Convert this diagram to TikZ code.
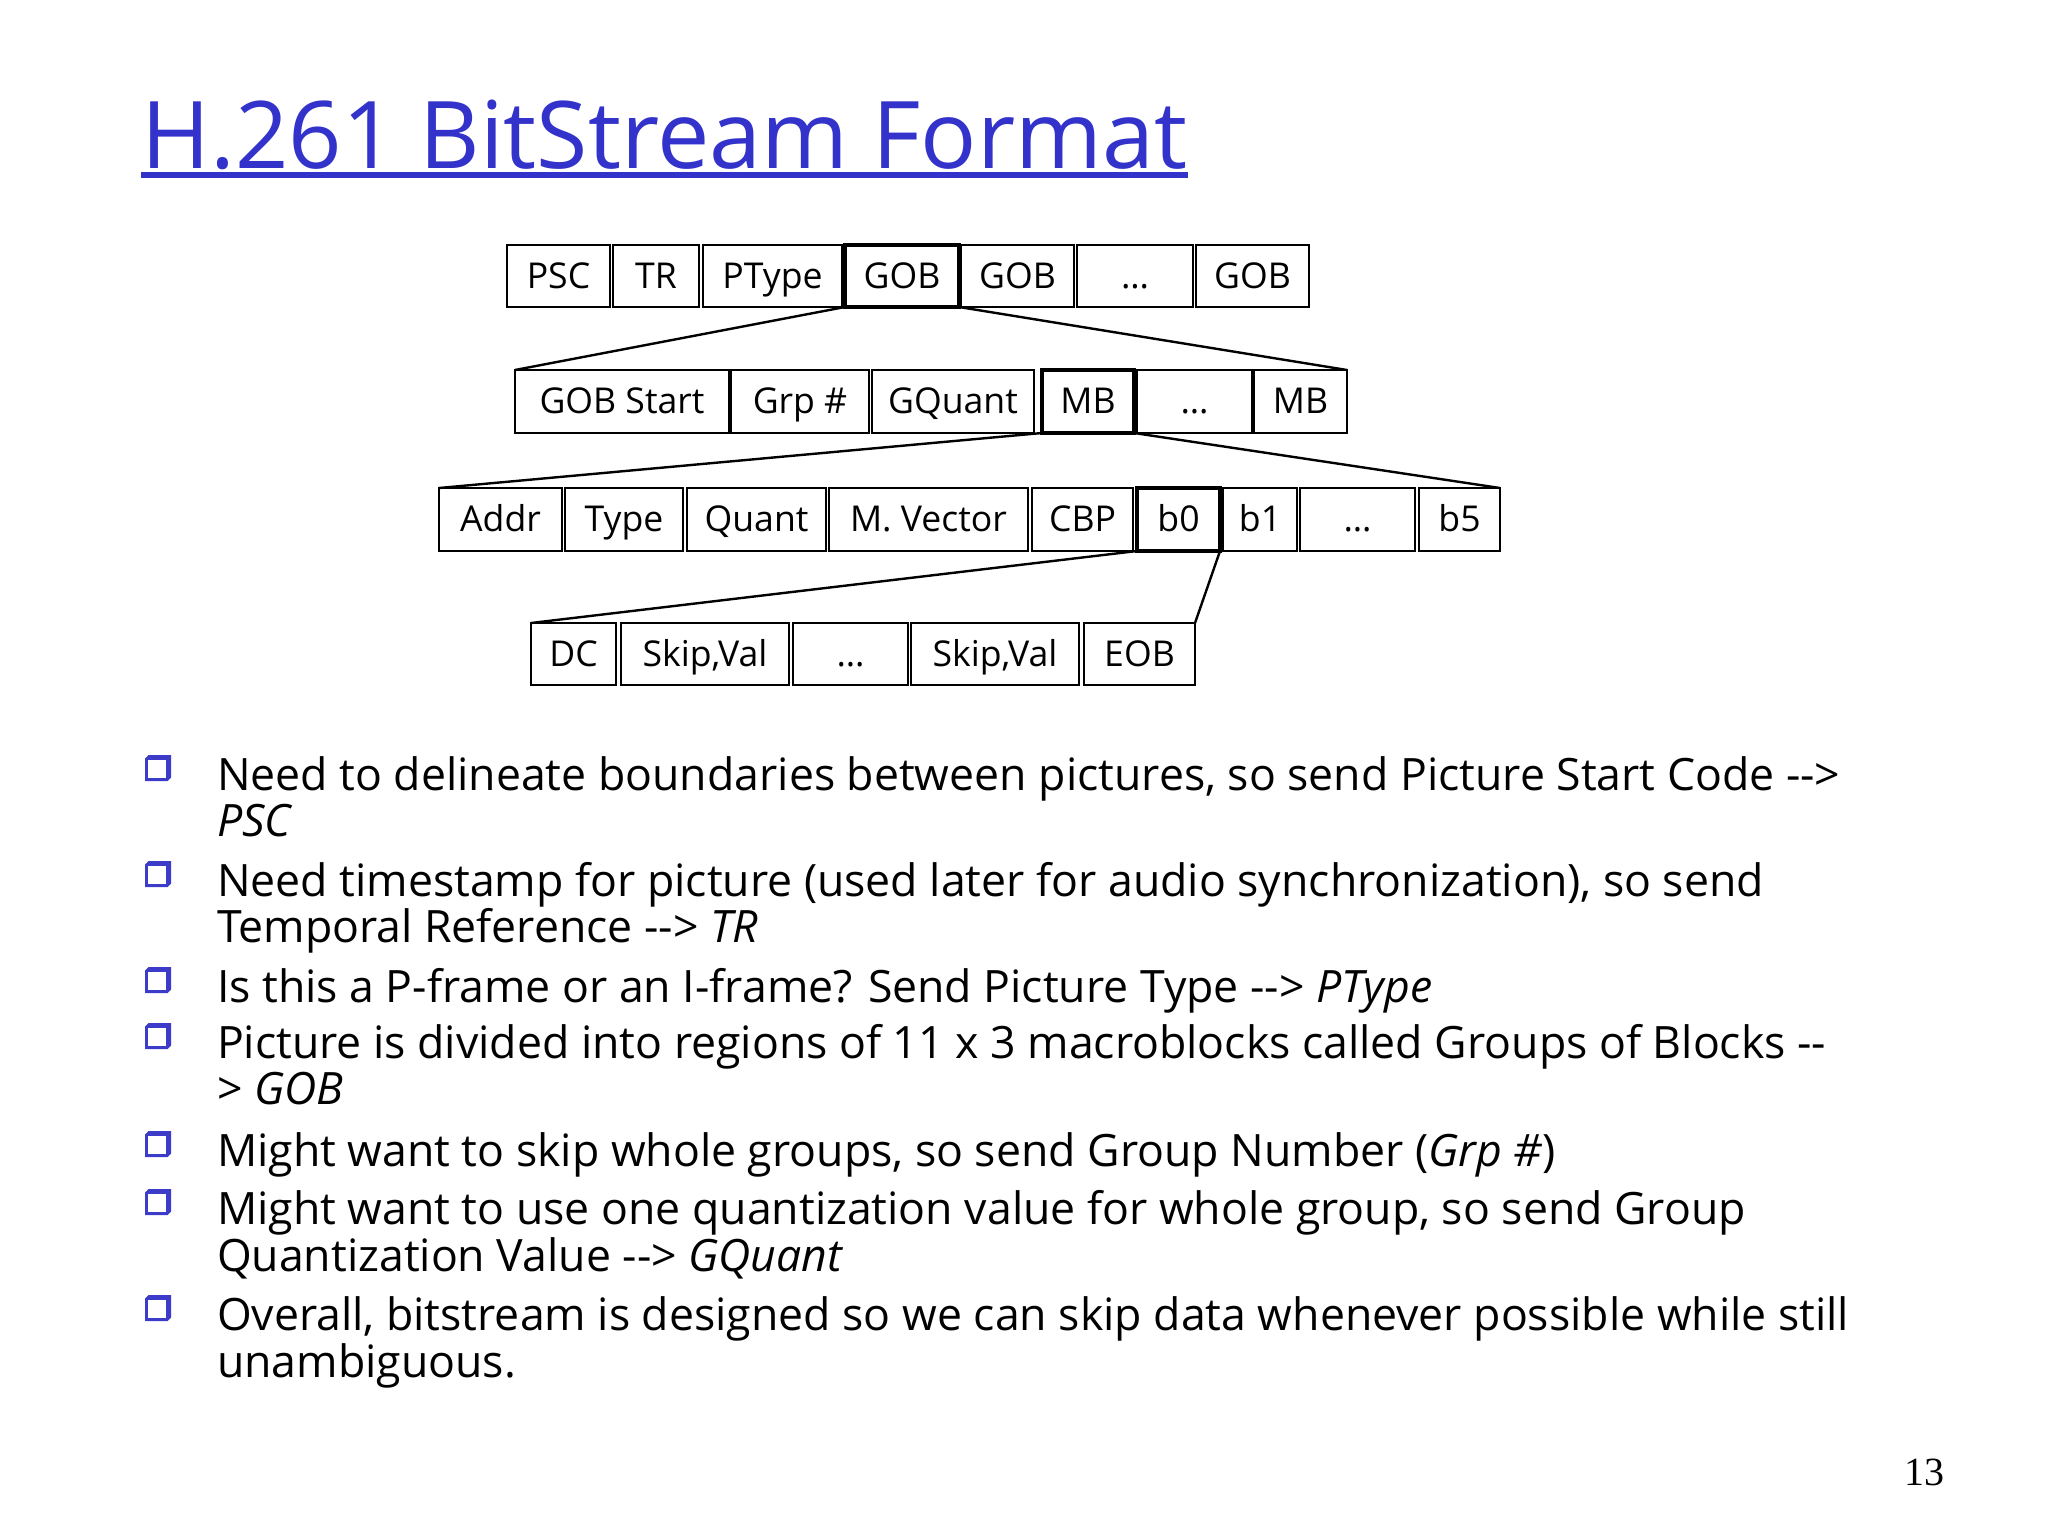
\documentclass[tikz,border=0pt]{standalone}
\usepackage{fontspec}
\setmainfont{Open Sans}
\newfontfamily\pgnumfont{Liberation Serif}
\definecolor{titleblue}{RGB}{51,51,204}
\definecolor{bulletblue}{RGB}{60,60,200}
\newcommand\cell[7][]{\node[cellbox,#1,minimum width={(#5-#3)*0.5pt},minimum height={(#6-#4)*0.5pt}] (#2) at ({(#3+#5)/2},{(#4+#6)/2}) {#7};}
\newcommand\bul[1]{%
  \fill[bulletblue] (145,#1-31.5) -- (148.5,#1-35) -- (171,#1-35) -- (171,#1-12.5) -- (167.5,#1-9) -- (145,#1-9) -- cycle;
  \fill[white] (147.8,#1-30) rectangle (166,#1-11.8);}
\begin{document}
\begin{tikzpicture}[x=0.5pt,y=-0.5pt,
  cellbox/.style={draw=black, line width=1pt, inner sep=0pt, outer sep=0pt,
    font=\fontsize{17.8}{20}\selectfont, text height=13.3pt, text depth=1pt},
  hot/.style={line width=2pt},
  fan/.style={line width=1.2pt},
  txt/.style={anchor=base west, inner sep=0pt, outer sep=0pt, font=\fontsize{22.3}{26}\selectfont},
]
\useasboundingbox (0,0) rectangle (2048,1536);
\fill[white] (0,0) rectangle (2048,1536);

% title
\node[anchor=base west, inner sep=0pt, text=titleblue, font=\fontsize{46.7}{52}\selectfont] (title) at (141,168) {H.261 BitStream Format};
\draw[titleblue, line width=3pt] (141,175) -- (1188,175);

% row 1
\cell{psc}{507}{245}{610}{307}{PSC}
\cell{tr}{613}{245}{699}{307}{TR}
\cell{ptype}{703}{245}{842}{307}{PType}
\cell[hot]{gobA}{845}{245}{959}{307}{GOB}
\cell{gobB}{961}{245}{1074}{307}{GOB}
\cell{dotsA}{1077}{245}{1193}{307}{\dots}
\cell{gobC}{1196}{245}{1309}{307}{GOB}

% row 2
\cell{gobstart}{515}{370}{729}{433}{GOB Start}
\cell{grp}{731}{370}{869}{433}{Grp \#}
\cell{gquant}{872}{370}{1034}{433}{GQuant}
\cell[hot]{mbA}{1042}{370}{1134}{433}{MB}
\cell{dotsB}{1137}{370}{1252}{433}{\dots}
\cell{mbB}{1254}{370}{1347}{433}{MB}

% row 3
\cell{addr}{439}{488}{562}{551}{Addr}
\cell{type}{565}{488}{683}{551}{Type}
\cell{quant}{687}{488}{826}{551}{Quant}
\cell{mvec}{829}{488}{1028}{551}{M. Vector}
\cell{cbp}{1032}{488}{1133}{551}{CBP}
\cell[hot]{bzero}{1137}{488}{1220}{551}{b0}
\cell{bone}{1223}{488}{1297}{551}{b1}
\cell{dotsC}{1300}{488}{1415}{551}{\dots}
\cell{bfive}{1419}{488}{1500}{551}{b5}

% row 4
\cell{dc}{531}{623}{616}{685}{DC}
\cell{skipA}{621}{623}{789}{685}{Skip,Val}
\cell{dotsD}{793}{623}{908}{685}{\dots}
\cell{skipB}{911}{623}{1079}{685}{Skip,Val}
\cell{eob}{1084}{623}{1195}{685}{EOB}

% fan lines
\draw[fan] (gobA.south west) -- (gobstart.north west);
\draw[fan] (gobA.south east) -- (mbB.north east);
\draw[fan] (mbA.south west) -- (addr.north west);
\draw[fan] (mbA.south east) -- (bfive.north east);
\draw[fan] (bzero.south west) -- (dc.north west);
\draw[fan] (bzero.south east) -- (eob.north east);

% bullets
\bul{790}\bul{896}\bul{1002}\bul{1058}\bul{1166}\bul{1224}\bul{1330}

\node[txt] (la) at (217,790) {Need to delineate boundaries between pictures, so send Picture Start Code -{}-{}>};
\node[txt] (lb) at (217,836) {\textit{PSC}};
\node[txt] (lc) at (217,896) {Need timestamp for picture (used later for audio synchronization), so send};
\node[txt] (ld) at (217,942) {Temporal Reference -{}-{}> \textit{TR}};
\node[txt] (le) at (217,1002) {Is this a P-frame or an I-frame? Send Picture Type -{}-{}> \textit{PType}};
\node[txt] (lf) at (217,1058) {Picture is divided into regions of 11 x 3 macroblocks called Groups of Blocks -{}-};
\node[txt] (lg) at (217,1104) {> \textit{GOB}};
\node[txt] (lh) at (217,1166) {Might want to skip whole groups, so send Group Number (\textit{Grp \#})};
\node[txt] (li) at (217,1224) {Might want to use one quantization value for whole group, so send Group};
\node[txt] (lj) at (217,1271) {Quantization Value -{}-{}> \textit{GQuant}};
\node[txt] (lk) at (217,1330) {Overall, bitstream is designed so we can skip data whenever possible while still};
\node[txt] (ll) at (217,1377) {unambiguous.};

% page number
\node[anchor=base west, inner sep=0pt, font=\pgnumfont\fontsize{20}{24}\selectfont] (pg) at (1904,1485) {13};
\end{tikzpicture}
\end{document}
